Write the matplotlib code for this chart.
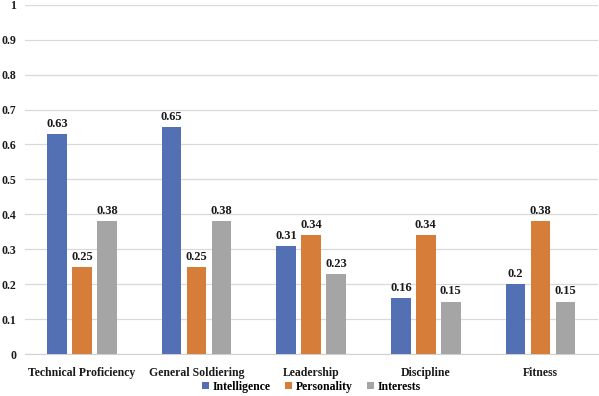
import matplotlib
matplotlib.use("Agg")
import matplotlib.pyplot as plt
import numpy as np

categories = ["Technical Proficiency", "General Soldiering", "Leadership", "Discipline", "Fitness"]
series_names = ["Intelligence", "Personality", "Interests"]
intelligence = [0.63, 0.65, 0.31, 0.16, 0.2]
personality = [0.25, 0.25, 0.34, 0.34, 0.38]
interests = [0.38, 0.38, 0.23, 0.15, 0.15]
yticks = [0, 0.1, 0.2, 0.3, 0.4, 0.5, 0.6, 0.7, 0.8, 0.9, 1]

colors = ["#5470B5", "#D77D3A", "#A5A5A5"]

plt.rcParams['font.family'] = ['Liberation Serif', 'DejaVu Serif']
plt.rcParams['font.weight'] = 'bold'

fig = plt.figure(figsize=(5.99, 3.96), dpi=100)
ax = fig.add_axes([0.041, 0.106, 0.957, 0.882])

x = np.arange(len(categories))
w = 0.17
off = 0.218
for i, (vals, name) in enumerate(zip([intelligence, personality, interests], series_names)):
    bars = ax.bar(x + (i - 1) * off, vals, w, color=colors[i], label=name, zorder=3)
    for b, v in zip(bars, vals):
        ax.text(b.get_x() + b.get_width() / 2, v + 0.012, f"{v:g}", ha="center", va="bottom",
                fontsize=9, fontweight="bold", color="#1a1a1a")

ax.set_xlim(-0.5, len(categories) - 0.5)
ax.set_ylim(0, 1)
ax.set_yticks(yticks)
ax.set_yticklabels([f"{t:g}" for t in yticks])
ax.set_xticks(x)
ax.set_xticklabels(categories)
ax.tick_params(axis="both", length=0, labelsize=8.5, colors="#1a1a1a")
ax.tick_params(axis="x", pad=9)
ax.tick_params(axis="y", pad=6)
ax.grid(axis="y", color="#D9D9D9", linewidth=0.9, zorder=0)
for s in ["top", "right", "left"]:
    ax.spines[s].set_visible(False)
ax.spines["bottom"].set_color("#D0D0D0")

ax.legend(loc="lower center", bbox_to_anchor=(0.5, -0.118), ncol=3, frameon=False,
          fontsize=8.5, handlelength=0.6, handleheight=0.6, handletextpad=0.3, columnspacing=1.2,
          borderaxespad=0, borderpad=0.2)

fig.savefig("out.png", dpi=100)
